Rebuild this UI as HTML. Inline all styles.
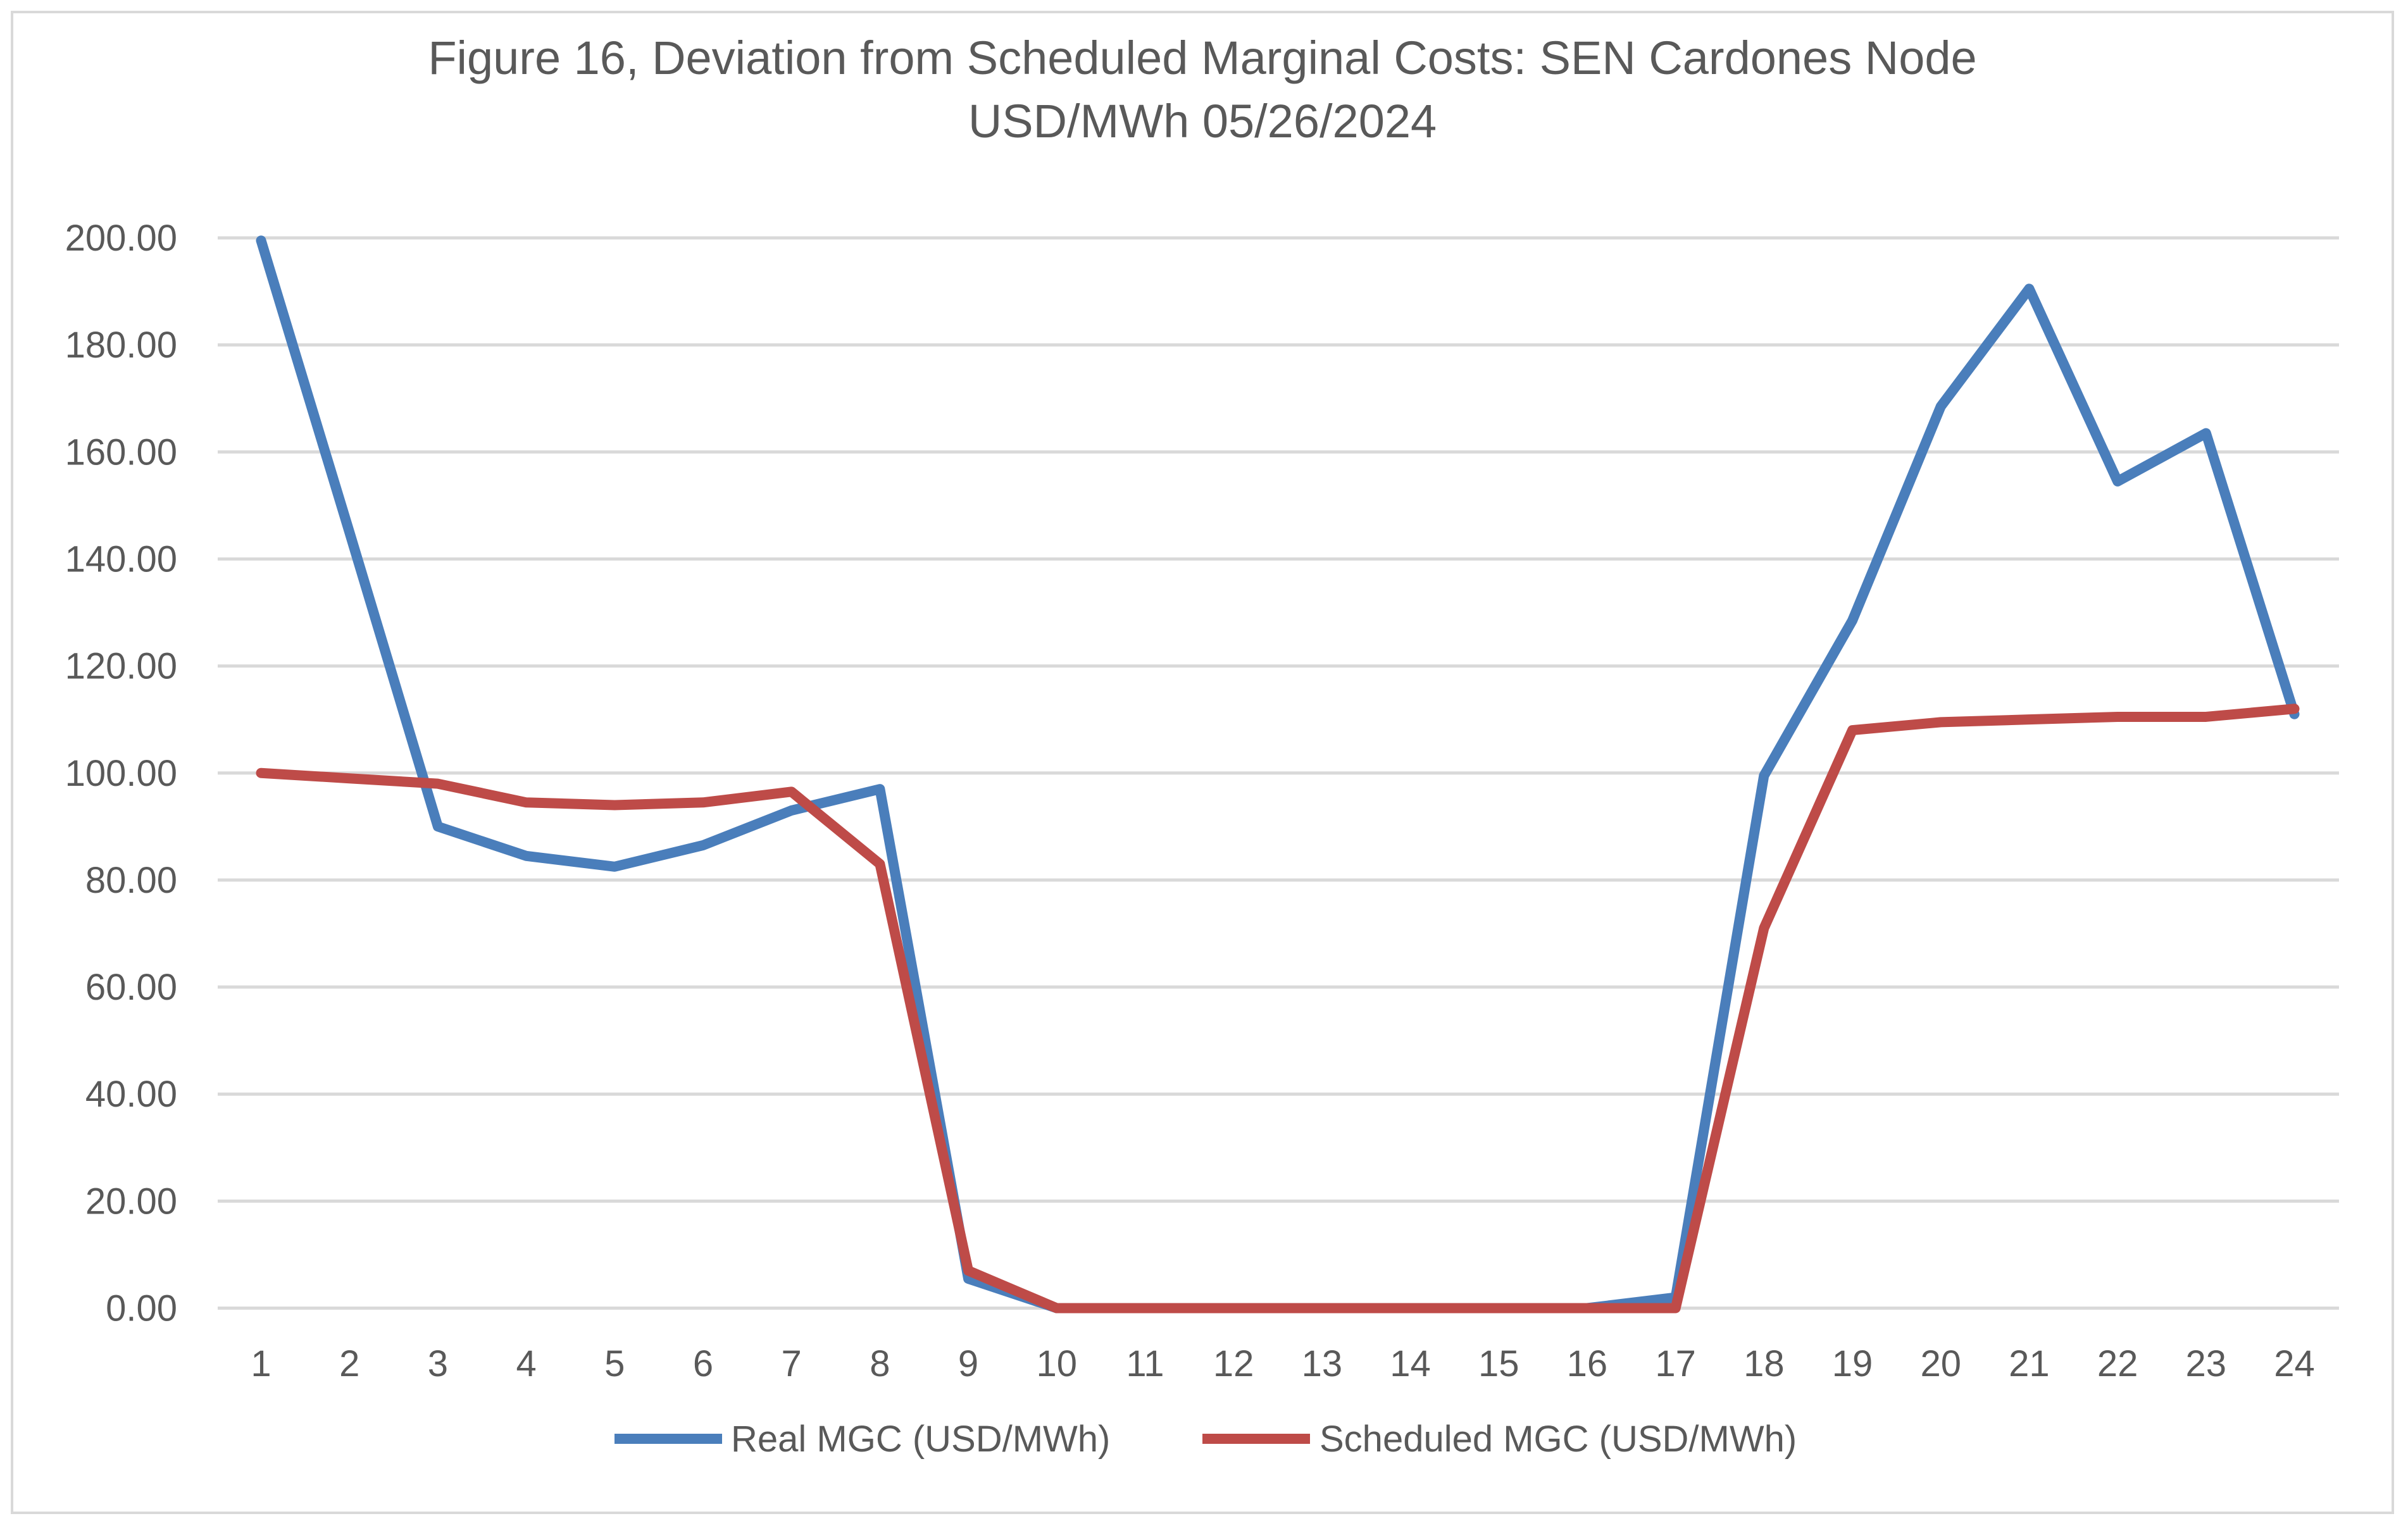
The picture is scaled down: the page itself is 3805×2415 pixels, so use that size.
<!DOCTYPE html>
<html><head><meta charset="utf-8">
<style>
html,body{margin:0;padding:0;background:#fff;}
svg{display:block;font-family:"Liberation Sans",Calibri,sans-serif;}
</style></head>
<body>
<svg id="chart" width="3805" height="2415" viewBox="0 0 3805 2415">
<rect x="19" y="19" width="3762" height="2372" fill="#fff" stroke="#d9d9d9" stroke-width="4"/>
<text x="1900" y="117" text-anchor="middle" font-size="74" fill="#595959">Figure 16, Deviation from Scheduled Marginal Costs: SEN Cardones Node</text>
<text x="1900" y="217" text-anchor="middle" font-size="74" fill="#595959">USD/MWh 05/26/2024</text>
<g id="grid"></g><g id="yticks"></g><g id="xticks"></g><g id="series"></g>
<g>
<line x1="971" y1="2274" x2="1141" y2="2274" stroke="#4a7ebb" stroke-width="16"/>
<text x="1155" y="2294" font-size="58" fill="#595959">Real MGC (USD/MWh)</text>
<line x1="1900" y1="2274" x2="2070" y2="2274" stroke="#be4b48" stroke-width="16"/>
<text x="2085" y="2294" font-size="58" fill="#595959">Scheduled MGC (USD/MWh)</text>
</g>
</svg>
<script>
const categories=[1,2,3,4,5,6,7,8,9,10,11,12,13,14,15,16,17,18,19,20,21,22,23,24];
const realValues=[199.5,145,90,84.5,82.5,86.5,93,97,5.5,0,0,0,0,0,0,0,2,99.5,128.5,168.5,190.5,154.5,163.5,111];
const scheduledValues=[100,99,98,94.5,94,94.5,96.5,83,7,0,0,0,0,0,0,0,0,71,108,109.5,110,110.5,110.5,112];
const yTicks=[0,20,40,60,80,100,120,140,160,180,200];
const NS="http://www.w3.org/2000/svg";
const plotL=344,plotR=3696,y0=2067.5,y200=376;
function yS(v){return y0+(y200-y0)*v/200;}
function xS(i){return 412.5+(3625.5-412.5)*i/(categories.length-1);}
function mk(tag,attrs,parent){const e=document.createElementNS(NS,tag);for(const k in attrs)e.setAttribute(k,attrs[k]);parent.appendChild(e);return e;}
const grid=document.getElementById('grid'),yt=document.getElementById('yticks'),xt=document.getElementById('xticks'),ser=document.getElementById('series');
yTicks.forEach(v=>{
 const l=mk('line',{x1:plotL,x2:plotR,y1:yS(v),y2:yS(v),stroke:'#d9d9d9','stroke-width':5},grid);
 
 
 const t=mk('text',{x:280,y:yS(v)+20,'text-anchor':'end','font-size':58,fill:'#595959'},yt);
 t.textContent=v.toFixed(2);
 
 
});
categories.forEach((c,i)=>{
 const t=mk('text',{x:xS(i),y:2175,'text-anchor':'middle','font-size':58,fill:'#595959'},xt);
 t.textContent=c;
 
 
});
function drawLine(vals,color,name){
 const p=mk('polyline',{points:vals.map((v,i)=>xS(i)+','+yS(v)).join(' '),fill:'none',stroke:color,'stroke-width':16,'stroke-linejoin':'round','stroke-linecap':'round'},ser);
 
 
}
drawLine(realValues,'#4a7ebb','real-mgc-line');
drawLine(scheduledValues,'#be4b48','scheduled-mgc-line');
</script>
</body></html>
